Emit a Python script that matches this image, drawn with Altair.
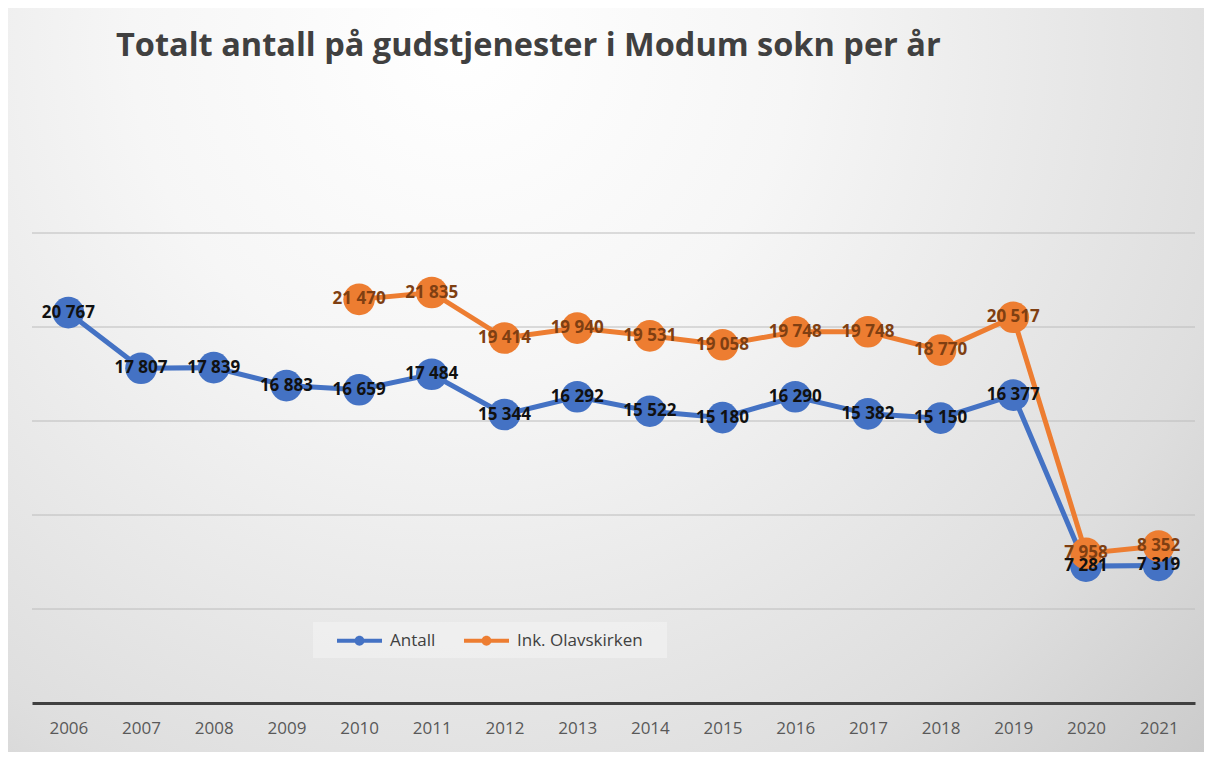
import altair as alt
import pandas as pd

years = [str(y) for y in range(2006, 2022)]
antall = [20767, 17807, 17839, 16883, 16659, 17484, 15344, 16292, 15522, 15180,
          16290, 15382, 15150, 16377, 7281, 7319]
ink_years = [str(y) for y in range(2010, 2022)]
ink = [21470, 21835, 19414, 19940, 19531, 19058, 19748, 19748, 18770, 20517, 7958, 8352]
grid_values = [5000, 10000, 15000, 20000, 25000]

series_names = ["Antall", "Ink. Olavskirken"]
series_colors = ["#4472C4", "#ED7D31"]
label_colors = ["#111111", "#7F3F12"]

rows = [{"year": y, "value": v, "series": series_names[0]} for y, v in zip(years, antall)]
rows += [{"year": y, "value": v, "series": series_names[1]} for y, v in zip(ink_years, ink)]
df = pd.DataFrame(rows)

W, H = 1163, 470
PL, PT, PR, PB = 24, 225, 9, 49

legend_path = ("M-1,-0.09 L1,-0.09 L1,0.09 L-1,0.09 Z "
               "M-0.22,0 A0.22,0.22 0 1,1 0.22,0 A0.22,0.22 0 1,1 -0.22,0 Z")

base = alt.Chart(df)

bg = alt.Chart(pd.DataFrame({"a": [0]})).mark_rect(
    fill=alt.Gradient(
        gradient="radial",
        stops=[alt.GradientStop(color="#ffffff", offset=0),
               alt.GradientStop(color="#f6f6f6", offset=0.3),
               alt.GradientStop(color="#dedede", offset=0.72),
               alt.GradientStop(color="#c5c5c5", offset=1)],
        x1=0.38, y1=0.22, r1=0, x2=0.38, y2=0.22, r2=0.92),
).encode(
    x=alt.value(-PL), x2=alt.value(W + PR),
    y=alt.value(-PT), y2=alt.value(H + PB),
)

legend_box = alt.Chart(pd.DataFrame({"a": [0]})).mark_rect(
    fill="#f4f4f4", opacity=0.6).encode(
    x=alt.value(281), x2=alt.value(635), y=alt.value(389), y2=alt.value(425))

yscale = alt.Scale(domain=[0, 25000], nice=False, zero=True)

grid = alt.Chart(pd.DataFrame({"g": grid_values})).mark_rule(
    color="#bcbcbc", strokeWidth=1).encode(
    y=alt.Y("g:Q", scale=yscale, axis=None))

xenc = alt.X("year:O", sort=years,
             scale=alt.Scale(domain=years, padding=0.5),
             axis=alt.Axis(title=None, labelAngle=0, labelFont="Open Sans",
                           labelFontSize=17, labelColor="#595959", labelPadding=17,
                           ticks=False, domainColor="#404040", domainWidth=3,
                           grid=False, zindex=1))
yenc = alt.Y("value:Q", scale=yscale, axis=None)

color = alt.Color("series:N",
                  scale=alt.Scale(domain=series_names, range=series_colors),
                  legend=alt.Legend(title=None, orient="none", direction="horizontal",
                                    legendX=305, legendY=385,
                                    symbolType=legend_path, symbolSize=2025,
                                    symbolStrokeWidth=0,
                                    labelFont="Open Sans", labelFontSize=17,
                                    labelColor="#404040", columnPadding=28,
                                    padding=0, labelOffset=8))

lines = base.mark_line(strokeWidth=5).encode(x=xenc, y=yenc, color=color)
points = base.mark_point(filled=True, size=1000, opacity=1, shape="circle").encode(
    x=xenc, y=yenc, color=color)

texts = []
for name, col in zip(series_names, label_colors):
    t = base.transform_filter(alt.datum.series == name).transform_calculate(
        label="replace(format(datum.value, ','), ',', ' ')"
    ).mark_text(font="Open Sans", fontSize=17, fontWeight="bold", color=col,
                align="center", baseline="middle").encode(
        x=xenc, y=yenc, text="label:N")
    texts.append(t)

chart = alt.layer(bg, grid, legend_box, lines, points, *texts).properties(
    width=W, height=H,
    title=alt.Title("Totalt antall på gudstjenester i Modum sokn per år",
                    anchor="start", dx=108, offset=-80, baseline="alphabetic",
                    font="Open Sans", fontSize=32.5, fontWeight="bold",
                    color="#404040"),
    autosize=alt.AutoSizeParams(type="none"),
    padding={"left": PL, "top": PT, "right": PR, "bottom": PB},
).configure_view(stroke=None).configure(background="#ffffff")

chart.save("out.html", embed_options={"renderer": "svg", "actions": False})
